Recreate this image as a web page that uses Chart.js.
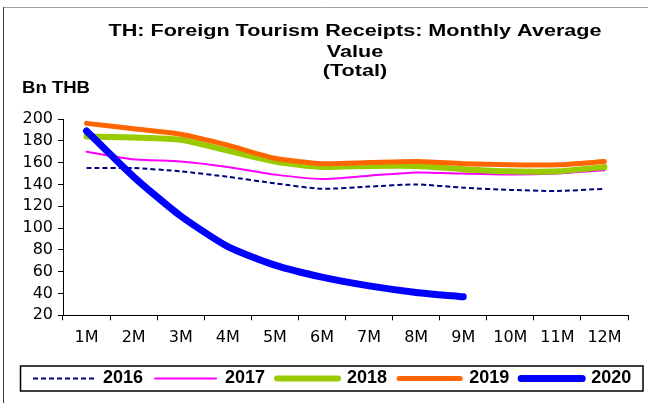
<!DOCTYPE html>
<html>
<head>
<meta charset="utf-8">
<script src="https://cdn.jsdelivr.net/npm/chart.js@4"></script>
<style>
  html, body { margin: 0; padding: 0; background: #fff; }
  #wrap { width: 648px; height: 403px; position: relative; }
</style>
</head>
<body>
<div id="wrap"><canvas id="chart"></canvas></div>
<script>
  // Months of the year
  var months = ['1M', '2M', '3M', '4M', '5M', '6M', '7M', '8M', '9M', '10M', '11M', '12M'];

  // Monthly average receipts, Bn THB
  var y2016 = [155, 155, 152, 147, 141, 136, 138, 140, 137, 135, 134, 136];
  var y2017 = [170, 163, 161, 156, 149, 145, 148, 151, 150, 149, 150, 153];
  var y2018 = [184, 183, 181, 171, 161, 156, 157, 157, 154, 152, 152, 156];
  var y2019 = [196, 191, 186, 176, 164, 159, 160, 161, 159, 158, 158, 161];
  var y2020 = [189, 147, 111, 83, 66, 55, 47, 41, 37, null, null, null];

  var titleLines = ['TH: Foreign Tourism Receipts: Monthly Average', 'Value', '(Total)'];
  var unitLabel = 'Bn THB';

  var SANS = "'Liberation Sans', Arial, sans-serif";
  var WIDE = "'DejaVu Sans', sans-serif";

  // frame, title, unit label and the box round the legend
  var decor = {
    id: 'decor',
    beforeDraw: function (chart) {
      var c = chart.ctx;
      c.save();
      c.fillStyle = '#fff';
      c.fillRect(0, 0, chart.width, chart.height);
      c.lineWidth = 1;
      c.strokeStyle = '#a0a0a0';
      c.beginPath();
      c.moveTo(3, 7.5); c.lineTo(chart.width, 7.5);
      c.stroke();
      c.strokeStyle = '#404040';
      c.beginPath();
      c.moveTo(3.5, 7); c.lineTo(3.5, chart.height);
      c.stroke();
      c.restore();
    },
    afterDraw: function (chart) {
      var c = chart.ctx;
      c.save();
      c.fillStyle = '#000';
      c.textBaseline = 'middle';
      c.font = 'bold 16px ' + SANS;
      // the source text is a little stretched sideways
      var sx = 493 / c.measureText(titleLines[0]).width;
      var ys = [32, 53, 72];
      c.textAlign = 'center';
      titleLines.forEach(function (t, i) {
        c.save();
        c.translate(355, ys[i]);
        c.scale(sx, 1);
        c.fillText(t, 0, 0);
        c.restore();
      });
      c.textAlign = 'left';
      var su = 68 / c.measureText(unitLabel).width;
      c.save();
      c.translate(22, 89);
      c.scale(su, 1);
      c.fillText(unitLabel, 0, 0);
      c.restore();

      var lg = chart.legend;
      var mid = lg.top + 12 + 9;
      c.strokeStyle = '#000';
      c.lineWidth = 1.5;
      c.strokeRect(20.5, mid - 12.5, 622.5, 25);
      c.restore();
    }
  };

  var ctx = document.getElementById('chart').getContext('2d');

  var myChart = new Chart(ctx, {
    type: 'line',
    data: {
      labels: months,
      datasets: [
        { label: '2016', data: y2016, borderColor: '#000080', backgroundColor: '#000080', borderWidth: 2, borderDash: [5, 3], borderCapStyle: 'butt', order: 4 },
        { label: '2017', data: y2017, borderColor: '#ff00ff', backgroundColor: '#ff00ff', borderWidth: 2, borderCapStyle: 'round', order: 3 },
        { label: '2018', data: y2018, borderColor: '#99cc00', backgroundColor: '#99cc00', borderWidth: 6, borderCapStyle: 'round', order: 2 },
        { label: '2019', data: y2019, borderColor: '#ff6600', backgroundColor: '#ff6600', borderWidth: 5, borderCapStyle: 'round', order: 1 },
        { label: '2020', data: y2020, borderColor: '#0000ff', backgroundColor: '#0000ff', borderWidth: 7, borderCapStyle: 'round', order: 0 }
      ]
    },
    options: {
      responsive: true,
      maintainAspectRatio: false,
      animation: false,
      layout: { padding: { top: 119, left: 21, right: 0, bottom: 5.5 } },
      elements: {
        point: { radius: 0, hoverRadius: 0 },
        line: { tension: 0.2, borderJoinStyle: 'round' }
      },
      scales: {
        x: {
          offset: true,
          grid: { offset: true, drawOnChartArea: false, drawTicks: true, tickLength: 5, color: '#000' },
          border: { display: true, color: '#000', width: 1 },
          ticks: { color: '#000', font: { family: WIDE, size: 16 }, padding: 8, maxRotation: 0, autoSkip: false },
          afterFit: function (scale) { scale.height += 2; }
        },
        y: {
          min: 20,
          max: 200,
          grid: { drawOnChartArea: false, drawTicks: true, tickLength: 5, color: '#000' },
          border: { display: true, color: '#000', width: 1 },
          ticks: { stepSize: 20, autoSkip: false, color: '#000', font: { family: WIDE, size: 16 }, padding: 5 },
          afterFit: function (scale) { scale.width = 42; }
        },
        // empty right-hand axis, only keeps the plot clear of the right edge
        yr: {
          position: 'right',
          display: true,
          grid: { display: false },
          border: { display: false },
          ticks: { display: false },
          afterFit: function (scale) { scale.width = 20; }
        }
      },
      plugins: {
        title: { display: false },
        tooltip: { enabled: false },
        legend: {
          position: 'bottom',
          align: 'start',
          labels: {
            usePointStyle: true,
            pointStyle: 'line',
            pointStyleWidth: 61,
            padding: 12,
            color: '#000',
            font: { family: SANS, size: 18, weight: 'bold' },
            sort: function (a, b) { return a.datasetIndex - b.datasetIndex; },
            generateLabels: function (chart) {
              var items = Chart.defaults.plugins.legend.labels.generateLabels(chart);
              items.forEach(function (it) {
                var ds = chart.data.datasets[it.datasetIndex];
                it.lineDash = ds.borderDash || [];
                it.lineCap = ds.borderCapStyle || 'butt';
                it.lineWidth = ds.borderWidth;
                it.strokeStyle = ds.borderColor;
              });
              return items;
            }
          }
        }
      }
    },
    plugins: [decor]
  });
</script>
</body>
</html>
